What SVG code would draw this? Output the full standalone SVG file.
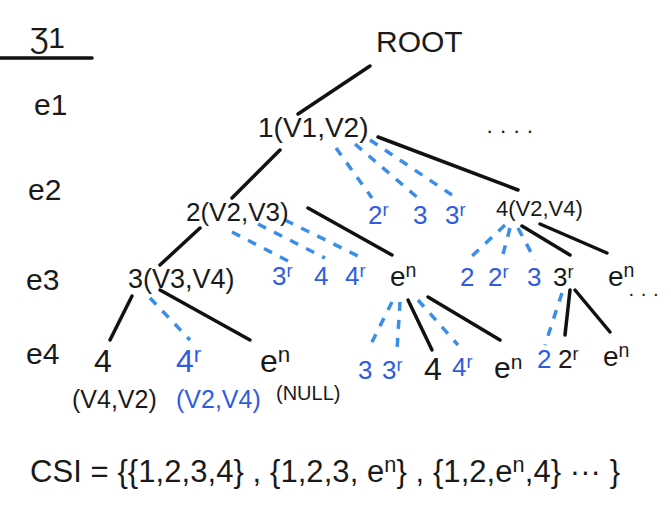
<svg xmlns="http://www.w3.org/2000/svg" width="671" height="512" viewBox="0 0 671 512">
<style>
text{font-family:"Liberation Sans","DejaVu Sans",sans-serif;fill:#1a1a1a}
.b{fill:#2f5de0}
.s{stroke:#111;stroke-width:3.5;stroke-linecap:round;fill:none}
.d{stroke:#3a8ee8;stroke-width:3.5;stroke-dasharray:9 9;fill:none}
.sup{font-size:70%;baseline-shift:45%}
</style>
<rect width="671" height="512" fill="#fff"/>
<g id="connectors">
<line class="s" x1="0" y1="58" x2="92" y2="58"/>
<line class="s" x1="370" y1="66" x2="298" y2="114"/>
<line class="s" x1="280" y1="150" x2="232" y2="198"/>
<line class="s" x1="378" y1="137" x2="518" y2="190"/>
<line class="d" x1="336" y1="148" x2="372" y2="198"/>
<line class="d" x1="355" y1="144" x2="418" y2="198"/>
<line class="d" x1="370" y1="140" x2="452" y2="195"/>
<line class="s" x1="200" y1="228" x2="160" y2="265"/>
<line class="s" x1="308" y1="208" x2="392" y2="255"/>
<line class="d" x1="232" y1="232" x2="290" y2="262"/>
<line class="d" x1="258" y1="224" x2="325" y2="258"/>
<line class="d" x1="285" y1="220" x2="362" y2="258"/>
<line class="d" x1="505" y1="225" x2="470" y2="258"/>
<line class="d" x1="510" y1="228" x2="502" y2="258"/>
<line class="d" x1="518" y1="228" x2="535" y2="260"/>
<line class="s" x1="522" y1="226" x2="570" y2="255"/>
<line class="s" x1="540" y1="224" x2="607" y2="253"/>
<line class="s" x1="132" y1="296" x2="110" y2="340"/>
<line class="d" x1="150" y1="298" x2="190" y2="340"/>
<line class="s" x1="160" y1="290" x2="250" y2="340"/>
<line class="d" x1="392" y1="302" x2="368" y2="350"/>
<line class="d" x1="400" y1="302" x2="397" y2="350"/>
<line class="s" x1="408" y1="300" x2="432" y2="350"/>
<line class="d" x1="418" y1="300" x2="458" y2="345"/>
<line class="s" x1="428" y1="297" x2="500" y2="340"/>
<line class="d" x1="562" y1="293" x2="545" y2="345"/>
<line class="s" x1="570" y1="290" x2="565" y2="335"/>
<line class="s" x1="575" y1="290" x2="610" y2="332"/>
</g>
<g id="labels" font-size="30">
<text x="30" y="48">Ʒ1</text>
<text x="34" y="115">e1</text>
<text x="28" y="200">e2</text>
<text x="26" y="290">e3</text>
<text x="26" y="364">e4</text>
</g>
<g id="root"><text x="376" y="52" font-size="30">ROOT</text></g>
<g id="n1"><text x="258" y="137" font-size="28">1(V1,V2)</text><text x="486" y="138" font-size="22">· · · ·</text></g>
<g id="n2"><text x="186" y="221" font-size="26">2(V2,V3)</text></g>
<g id="n4"><text x="496" y="216" font-size="22">4(V2,V4)</text></g>
<g id="n1b" font-size="26">
<text class="b" x="368" y="224">2<tspan class="sup">r</tspan></text>
<text class="b" x="413" y="224">3</text>
<text class="b" x="445" y="224">3<tspan class="sup">r</tspan></text>
</g>
<g id="n3"><text x="128" y="288" font-size="27">3(V3,V4)</text></g>
<g id="n2b" font-size="26">
<text class="b" x="272" y="285">3<tspan class="sup">r</tspan></text>
<text class="b" x="314" y="285">4</text>
<text class="b" x="345" y="285">4<tspan class="sup">r</tspan></text>
<text x="390" y="286" font-size="28">e<tspan class="sup">n</tspan></text>
</g>
<g id="n4b" font-size="26">
<text class="b" x="460" y="286">2</text>
<text class="b" x="488" y="286">2<tspan class="sup">r</tspan></text>
<text class="b" x="527" y="286">3</text>
<text x="553" y="286">3<tspan class="sup">r</tspan></text>
<text x="608" y="286" font-size="28">e<tspan class="sup">n</tspan></text>
<text x="628" y="300" font-size="20">· · ·</text>
</g>
<g id="n3b">
<text x="94" y="372" font-size="32">4</text>
<text class="b" x="176" y="372" font-size="32">4<tspan class="sup">r</tspan></text>
<text x="260" y="372" font-size="32">e<tspan class="sup">n</tspan></text>
<text x="72" y="408" font-size="25">(V4,V2)</text>
<text class="b" x="176" y="408" font-size="25">(V2,V4)</text>
<text x="276" y="400" font-size="20">(NULL)</text>
</g>
<g id="nenb" font-size="26">
<text class="b" x="358" y="379">3</text>
<text class="b" x="382" y="379">3<tspan class="sup">r</tspan></text>
<text x="424" y="380" font-size="32">4</text>
<text class="b" x="452" y="376">4<tspan class="sup">r</tspan></text>
<text x="494" y="378" font-size="30">e<tspan class="sup">n</tspan></text>
</g>
<g id="n3rb" font-size="26">
<text class="b" x="537" y="368">2</text>
<text x="558" y="368">2<tspan class="sup">r</tspan></text>
<text x="603" y="366" font-size="28">e<tspan class="sup">n</tspan></text>
</g>
<g id="csi"><text x="30" y="482" font-size="31" textLength="590">CSI = {{1,2,3,4} , {1,2,3, e<tspan class="sup">n</tspan>} , {1,2,e<tspan class="sup">n</tspan>,4} ··· }</text></g>
</svg>
